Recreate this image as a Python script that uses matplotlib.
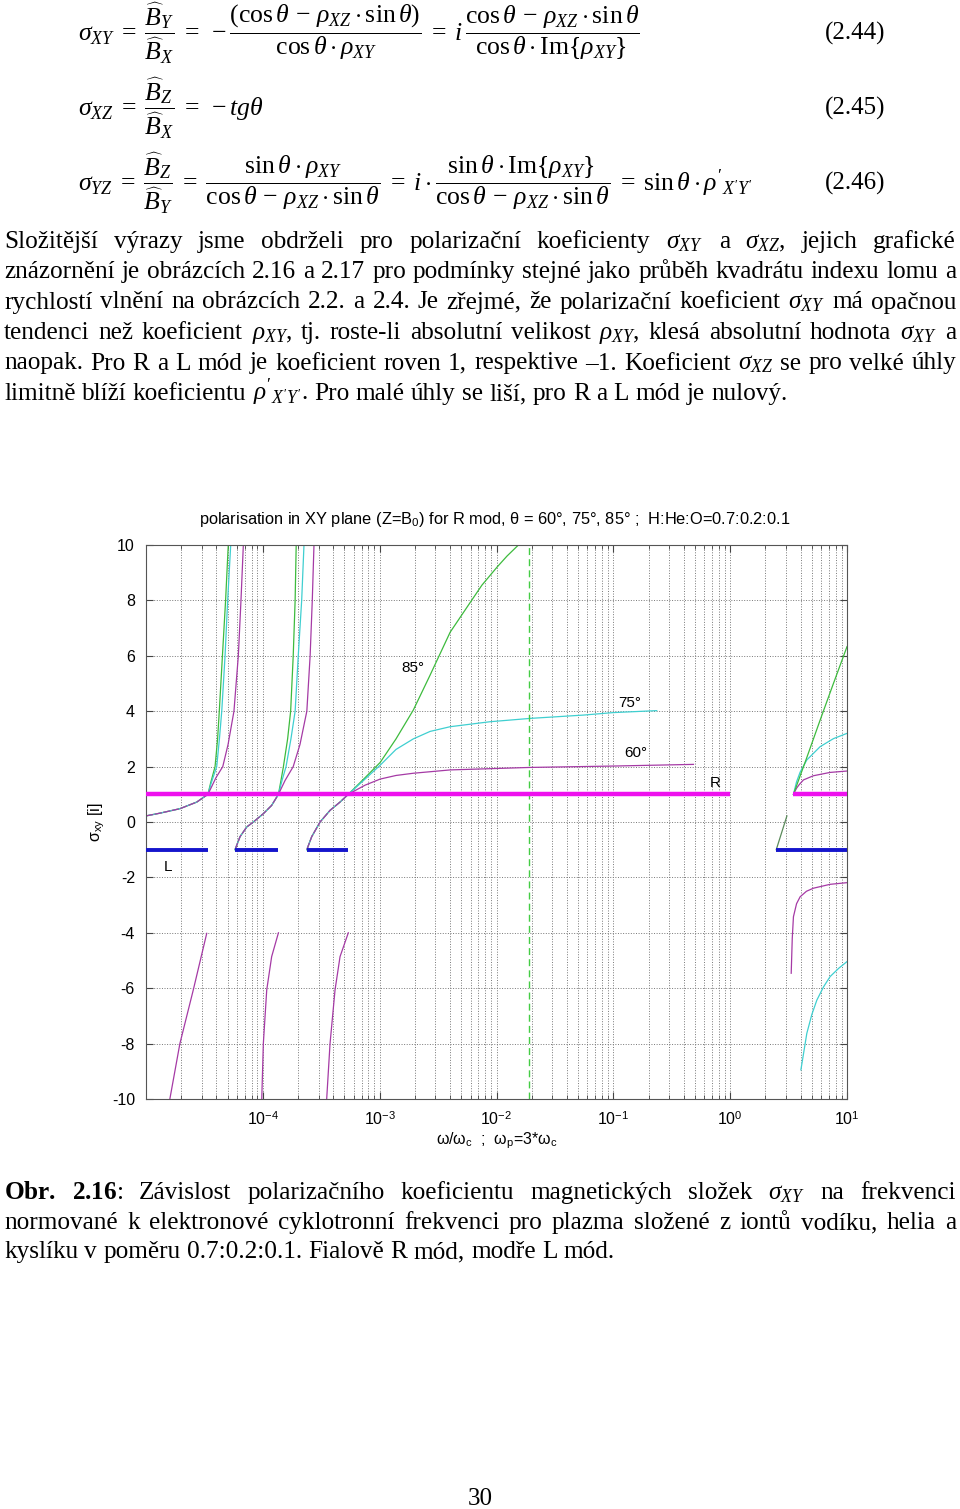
import numpy as np
import matplotlib
matplotlib.use('Agg')
import matplotlib.pyplot as plt

plt.rcParams['mathtext.fontset'] = 'custom'
plt.rcParams['mathtext.rm'] = 'Liberation Serif'
plt.rcParams['mathtext.it'] = 'Liberation Serif:italic'
plt.rcParams['mathtext.bf'] = 'Liberation Serif:bold'
plt.rcParams['mathtext.sf'] = 'Liberation Sans'
plt.rcParams['axes.unicode_minus'] = False

W, H = 960, 1509

# --- data (x = omega/omega_c, y = sigma_xy) ---
# below the crossing point sigma = 1 the three angles lie on one curve
g1_low_x = [1.0e-5, 1.32e-5, 1.95e-5, 2.72e-5, 3.39e-5]
g1_low_y = [0.22, 0.32, 0.48, 0.72, 1.0]
g1_60_x = [3.39e-5, 3.67e-5, 3.97e-5, 4.54e-5, 5.04e-5, 5.66e-5, 6.17e-5, 6.50e-5, 6.81e-5]
g1_60_y = [1.0, 1.3, 1.6, 2.0, 2.8, 4.0, 6.0, 8.0, 10.0]
g1_75_x = [3.39e-5, 3.61e-5, 4.03e-5, 4.25e-5, 4.45e-5, 4.75e-5, 5.00e-5, 5.31e-5]
g1_75_y = [1.0, 1.4, 2.0, 3.0, 4.0, 6.0, 8.0, 10.0]
g1_85_x = [3.39e-5, 3.57e-5, 3.90e-5, 4.10e-5, 4.24e-5, 4.51e-5, 4.80e-5, 5.06e-5]
g1_85_y = [1.0, 1.4, 2.0, 3.0, 4.0, 6.0, 8.0, 10.0]

g2_low_x = [5.78e-5, 6.38e-5, 7.28e-5, 8.30e-5, 1.01e-4, 1.19e-4, 1.36e-4]
g2_low_y = [-1.0, -0.53, -0.18, 0.0, 0.30, 0.60, 1.0]
g2_60_x = [1.36e-4, 1.55e-4, 1.82e-4, 2.08e-4, 2.38e-4, 2.54e-4, 2.65e-4, 2.74e-4]
g2_60_y = [1.0, 1.5, 2.0, 2.8, 4.0, 6.0, 8.0, 10.0]
g2_75_x = [1.36e-4, 1.46e-4, 1.58e-4, 1.74e-4, 1.89e-4, 2.01e-4, 2.15e-4, 2.25e-4]
g2_75_y = [1.0, 1.5, 2.0, 3.0, 4.0, 6.0, 8.0, 10.0]
g2_85_x = [1.36e-4, 1.43e-4, 1.50e-4, 1.63e-4, 1.73e-4, 1.82e-4, 1.89e-4, 1.93e-4]
g2_85_y = [1.0, 1.5, 2.0, 3.0, 4.0, 6.0, 8.0, 10.0]

g3_low_x = [2.38e-4, 2.62e-4, 3.09e-4, 3.76e-4, 4.58e-4, 5.39e-4]
g3_low_y = [-1.0, -0.53, 0.0, 0.42, 0.72, 1.0]
g3_60_x = [5.39e-4, 7.5e-4, 1.01e-3, 1.38e-3, 1.94e-3, 4.01e-3, 1.94e-2, 0.100, 0.485]
g3_60_y = [1.0, 1.33, 1.55, 1.68, 1.76, 1.88, 1.97, 2.02, 2.08]
g3_75_x = [5.39e-4, 7.5e-4, 1.01e-3, 1.38e-3, 1.94e-3, 2.70e-3, 4.01e-3, 8.81e-3, 1.94e-2,
           5.55e-2, 0.100, 0.235]
g3_75_y = [1.0, 1.55, 2.05, 2.62, 3.0, 3.27, 3.44, 3.62, 3.74, 3.86, 3.95, 4.02]
g3_85_x = [5.39e-4, 7.5e-4, 1.01e-3, 1.38e-3, 1.94e-3, 2.70e-3, 4.01e-3, 5.38e-3, 7.5e-3,
           1.01e-2, 1.23e-2, 1.54e-2]
g3_85_y = [1.0, 1.6, 2.15, 3.0, 4.04, 5.3, 6.85, 7.65, 8.55, 9.2, 9.6, 10.0]

g4_60_x = [3.48, 3.7, 3.9, 4.24, 5.16, 7.17, 10.0]
g4_60_y = [1.0, 1.22, 1.35, 1.52, 1.67, 1.79, 1.84]
g4_75_x = [3.48, 3.7, 3.97, 4.53, 5.89, 7.66, 10.0]
g4_75_y = [1.0, 1.45, 1.8, 2.24, 2.72, 3.01, 3.2]
g4_85_x = [3.48, 4.47, 5.89, 7.5, 10.0]
g4_85_y = [1.0, 2.26, 3.68, 4.9, 6.33]
g4_60_neg_x = [3.33, 3.40, 3.48, 3.7, 3.97, 4.5, 5.16, 7.17, 10.0]
g4_60_neg_y = [-5.46, -4.2, -3.42, -2.95, -2.70, -2.5, -2.39, -2.25, -2.19]
g4_75_neg_x = [4.03, 4.53, 5.0, 5.52, 6.3, 7.17, 8.5, 10.0]
g4_75_neg_y = [-8.95, -7.63, -6.95, -6.43, -5.95, -5.58, -5.28, -5.04]
g4_85_short_x = [2.48, 3.06]
g4_85_short_y = [-1.0, 0.22]

neg1_x = [1.60e-5, 1.95e-5, 2.54e-5, 3.31e-5]
neg1_y = [-10.0, -8.0, -6.06, -4.02]
neg2_x = [9.79e-5, 1.01e-4, 1.08e-4, 1.19e-4, 1.36e-4]
neg2_y = [-10.0, -8.0, -6.06, -4.86, -4.0]
neg3_x = [3.52e-4, 3.76e-4, 4.15e-4, 4.58e-4, 5.39e-4]
neg3_y = [-10.0, -8.0, -6.06, -4.86, -4.0]

r_mod_x = [(1.0e-5, 1.0), (3.48, 10.0)]
l_mod_x = [(1.0e-5, 3.39e-5), (5.78e-5, 1.36e-4), (2.38e-4, 5.39e-4), (2.48, 10.0)]
r_val, l_val = 1.0, -1.0
x_dash = 1.91e-2

xtick_vals = [1e-4, 1e-3, 1e-2, 1e-1, 1e0, 1e1]
xtick_exp = ['-4', '-3', '-2', '-1', '0', '1']
ytick_vals = list(range(-10, 11, 2))

uhly = [('85°', 1.94e-3, 5.56), ('75°', 0.139, 4.3), ('60°', 0.157, 2.49),
        ('R', 0.745, 1.41), ('L', 1.54e-5, -1.62)]

# --- page text ---
rovnice = [
    r"$\sigma_{XY}\;=\;\dfrac{\widehat{B}_Y}{\widehat{B}_X}\;=\;-\dfrac{(\cos\theta\,-\,\rho_{XZ}\cdot\sin\theta)}{\cos\theta\cdot\rho_{XY}}\;=\;i\,\dfrac{\cos\theta\,-\,\rho_{XZ}\cdot\sin\theta}{\cos\theta\cdot\mathrm{Im}\{\rho_{XY}\}}$",
    r"$\sigma_{XZ}\;=\;\dfrac{\widehat{B}_Z}{\widehat{B}_X}\;=\;-tg\theta$",
    r"$\sigma_{YZ}\;=\;\dfrac{\widehat{B}_Z}{\widehat{B}_Y}\;=\;\dfrac{\sin\theta\cdot\rho_{XY}}{\cos\theta\,-\,\rho_{XZ}\cdot\sin\theta}\;=\;i\cdot\dfrac{\sin\theta\cdot\mathrm{Im}\{\rho_{XY}\}}{\cos\theta\,-\,\rho_{XZ}\cdot\sin\theta}\;=\;\sin\theta\cdot\rho'_{X'Y'}$",
]
cisla = ['(2.44)', '(2.45)', '(2.46)']
rovnice_y = [33, 108, 183]

odstavec = [
    r"Složitější výrazy jsme obdrželi pro polarizační koeficienty $\sigma_{XY}$ a $\sigma_{XZ}$, jejich grafické",
    r"znázornění je obrázcích 2.16 a 2.17 pro podmínky stejné jako průběh kvadrátu indexu lomu a",
    r"rychlostí vlnění na obrázcích 2.2. a 2.4. Je zřejmé, že polarizační koeficient $\sigma_{XY}$ má opačnou",
    r"tendenci než koeficient $\rho_{XY}$, tj. roste-li absolutní velikost $\rho_{XY}$, klesá absolutní hodnota $\sigma_{XY}$ a",
    r"naopak. Pro R a L mód je koeficient roven 1, respektive –1. Koeficient $\sigma_{XZ}$ se pro velké úhly",
    r"limitně blíží koeficientu $\rho'_{X'Y'}$. Pro malé úhly se liší, pro R a L mód je nulový.",
]
odstavec_y = [248, 278, 308.5, 339, 369.5, 400]

popisek = [
    r"$\mathbf{Obr.}$ $\mathbf{2.16}$:  Závislost polarizačního koeficientu magnetických složek $\sigma_{XY}$ na frekvenci",
    r"normované k elektronové cyklotronní frekvenci pro plazma složené z iontů vodíku, helia a",
    r"kyslíku v poměru 0.7:0.2:0.1. Fialově R mód, modře L mód.",
]
popisek_y = [1199, 1229, 1258]

fig = plt.figure(figsize=(W / 100, H / 100), dpi=100)
renderer = fig.canvas.get_renderer()


def radek(y, text, fs, zarovnat=True, x0=4, x1=956):
    slova = [s for s in text.split(' ') if s]
    objs = [fig.text(0, 1 - y / H, s, fontsize=fs, family='Liberation Serif', va='baseline')
            for s in slova]
    sirky = [o.get_window_extent(renderer).width for o in objs]
    if zarovnat:
        mezera = (x1 - x0 - sum(sirky)) / (len(slova) - 1)
    else:
        mezera = fs * 100 / 72 * 0.25
    x = x0
    for o, w in zip(objs, sirky):
        o.set_x(x / W)
        x += w + mezera


for r, c, y in zip(rovnice, cisla, rovnice_y):
    fig.text(78 / W, 1 - y / H, r, fontsize=18.5, va='center')
    fig.text(885 / W, 1 - y / H, c, fontsize=18, va='center', ha='right', family='Liberation Serif')

for i, (t, y) in enumerate(zip(odstavec, odstavec_y)):
    radek(y, t, 18.2, zarovnat=(i < len(odstavec) - 1))
for i, (t, y) in enumerate(zip(popisek, popisek_y)):
    radek(y, t, 18.2, zarovnat=(i < len(popisek) - 1))
fig.text(480 / W, 1 - 1505 / H, '30', fontsize=18, family='Liberation Serif', ha='center', va='baseline')

# --- chart ---
ax = fig.add_axes([146 / W, 1 - 1099 / H, 701 / W, 554 / H])
ax.set_xscale('log')

c60, c75, c85 = '#a53aa5', '#3fcfd0', '#3dbb3d'
lw = 0.9
skupiny = [
    (g1_low_x, g1_low_y, g1_60_x, g1_60_y, g1_75_x, g1_75_y, g1_85_x, g1_85_y),
    (g2_low_x, g2_low_y, g2_60_x, g2_60_y, g2_75_x, g2_75_y, g2_85_x, g2_85_y),
    (g3_low_x, g3_low_y, g3_60_x, g3_60_y, g3_75_x, g3_75_y, g3_85_x, g3_85_y),
]
for lx, ly, x60, y60, x75, y75, x85, y85 in skupiny:
    ax.plot(lx, ly, color=c85, lw=lw)
    ax.plot(lx, ly, color=c75, lw=lw)
    ax.plot(lx, ly, color=c60, lw=lw, ls=(0, (6, 1)))
    ax.plot(x85, y85, color=c85, lw=lw)
    ax.plot(x75, y75, color=c75, lw=lw)
    ax.plot(x60, y60, color=c60, lw=lw)

ax.plot(g4_60_x, g4_60_y, color=c60, lw=lw)
ax.plot(g4_75_x, g4_75_y, color=c75, lw=lw)
ax.plot(g4_85_x, g4_85_y, color=c85, lw=lw)
ax.plot(g4_60_neg_x, g4_60_neg_y, color=c60, lw=lw)
ax.plot(g4_75_neg_x, g4_75_neg_y, color=c75, lw=lw)
ax.plot(g4_85_short_x, g4_85_short_y, color='#5a8a5a', lw=lw)
for nx, ny in [(neg1_x, neg1_y), (neg2_x, neg2_y), (neg3_x, neg3_y)]:
    ax.plot(nx, ny, color=c60, lw=lw)

ax.axvline(x_dash, color='#44cc44', lw=1.0, ls=(0, (5, 3)))

for a, b in r_mod_x:
    ax.plot([a, b], [r_val, r_val], color='#ee11ee', lw=3.2, solid_capstyle='butt', zorder=5)
for a, b in l_mod_x:
    ax.plot([a, b], [l_val, l_val], color='#1515cc', lw=2.8, solid_capstyle='butt', zorder=5)

for txt, x, y in uhly:
    ax.text(x, y, txt, fontsize=11, family='Liberation Sans', ha='center', va='center')

ax.set_xlim(1e-5, 10)
ax.set_ylim(-10, 10)
ax.set_yticks(ytick_vals)
ax.set_yticklabels([str(v) for v in ytick_vals], family='Liberation Sans', fontsize=11.5)
ax.set_xticks(xtick_vals)
ax.set_xticklabels(['10$^{\\mathsf{%s}}$' % e for e in xtick_exp], family='Liberation Sans', fontsize=11.5)
ax.grid(True, which='both', axis='x', ls=':', color='#777777', lw=0.7)
ax.grid(True, which='major', axis='y', ls=':', color='#777777', lw=0.7)
ax.tick_params(which='both', direction='in', top=True, right=True, color='#444444')
ax.tick_params(which='major', length=5, pad=8)
ax.tick_params(which='minor', length=3)
for s in ax.spines.values():
    s.set_color('#555555')
    s.set_linewidth(0.8)

fig.text(495 / W, 1 - 520 / H,
         'polarisation in XY plane (Z=B$_\\mathsf{0}$) for R mod, θ = 60°, 75°, 85° ;  H:He:O=0.7:0.2:0.1',
         fontsize=11.8, family='Liberation Sans', ha='center', va='center')
fig.text(497 / W, 1 - 1141 / H,
         'ω/ω$_\\mathsf{c}$  ;  ω$_\\mathsf{p}$=3*ω$_\\mathsf{c}$',
         fontsize=11.5, family='Liberation Sans', ha='center', va='center')
fig.text(97 / W, 1 - 822 / H, 'σ$_\\mathsf{xy}$ [i]', fontsize=11.5, family='Liberation Sans',
         ha='center', va='center', rotation=90)

fig.savefig('out.png', dpi=100)
